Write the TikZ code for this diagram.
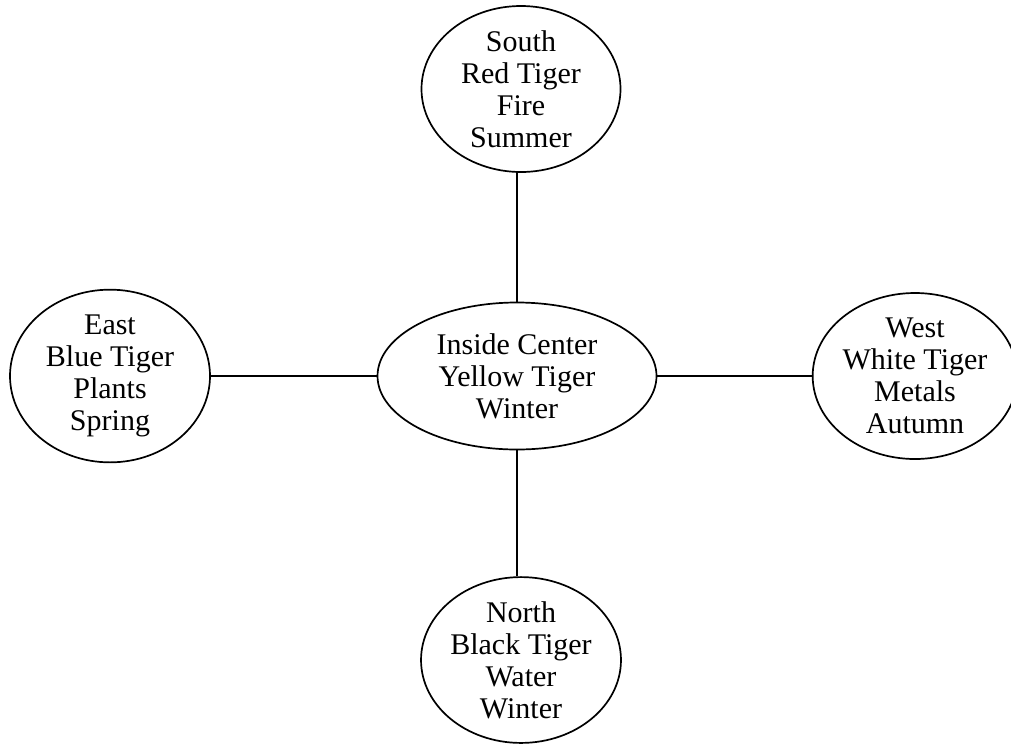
\documentclass[tikz,border=0pt]{standalone}
\usepackage{fontspec}
\setmainfont{Liberation Serif}
\usetikzlibrary{shapes.geometric}
\begin{document}
\begin{tikzpicture}[x=1pt,y=-1pt,
  oval/.style={draw, line width=1.7pt, ellipse, inner sep=0pt, align=center,
    font=\fontsize{30}{32}\selectfont},
  link/.style={line width=1.7pt}]
\useasboundingbox (0,0) rectangle (1011,745);
\fill[white] (0,0) rectangle (1011,745);
\node[oval, minimum width=199, minimum height=166] (south) at (521,89) {South\\Red Tiger\\Fire\\Summer};
\node[oval, minimum width=200, minimum height=166] (east) at (110,376) {East\\Blue Tiger\\Plants\\Spring};
\node[oval, minimum width=279, minimum height=147] (center) at (517,376) {Inside Center\\Yellow Tiger\\Winter};
\node[oval, minimum width=190, minimum height=166] (west) at (915,376) {West\\White Tiger\\Metals\\Autumn};
\node[oval, minimum width=199, minimum height=165] (north) at (521,660) {North\\Black Tiger\\Water\\Winter};
\draw[link] (south.south -| center.north) -- (center.north);
\draw[link] (east.east) -- (center.west);
\draw[link] (center.east) -- (west.west);
\draw[link] (center.south) -- (north.north -| center.south);
\end{tikzpicture}
\end{document}
